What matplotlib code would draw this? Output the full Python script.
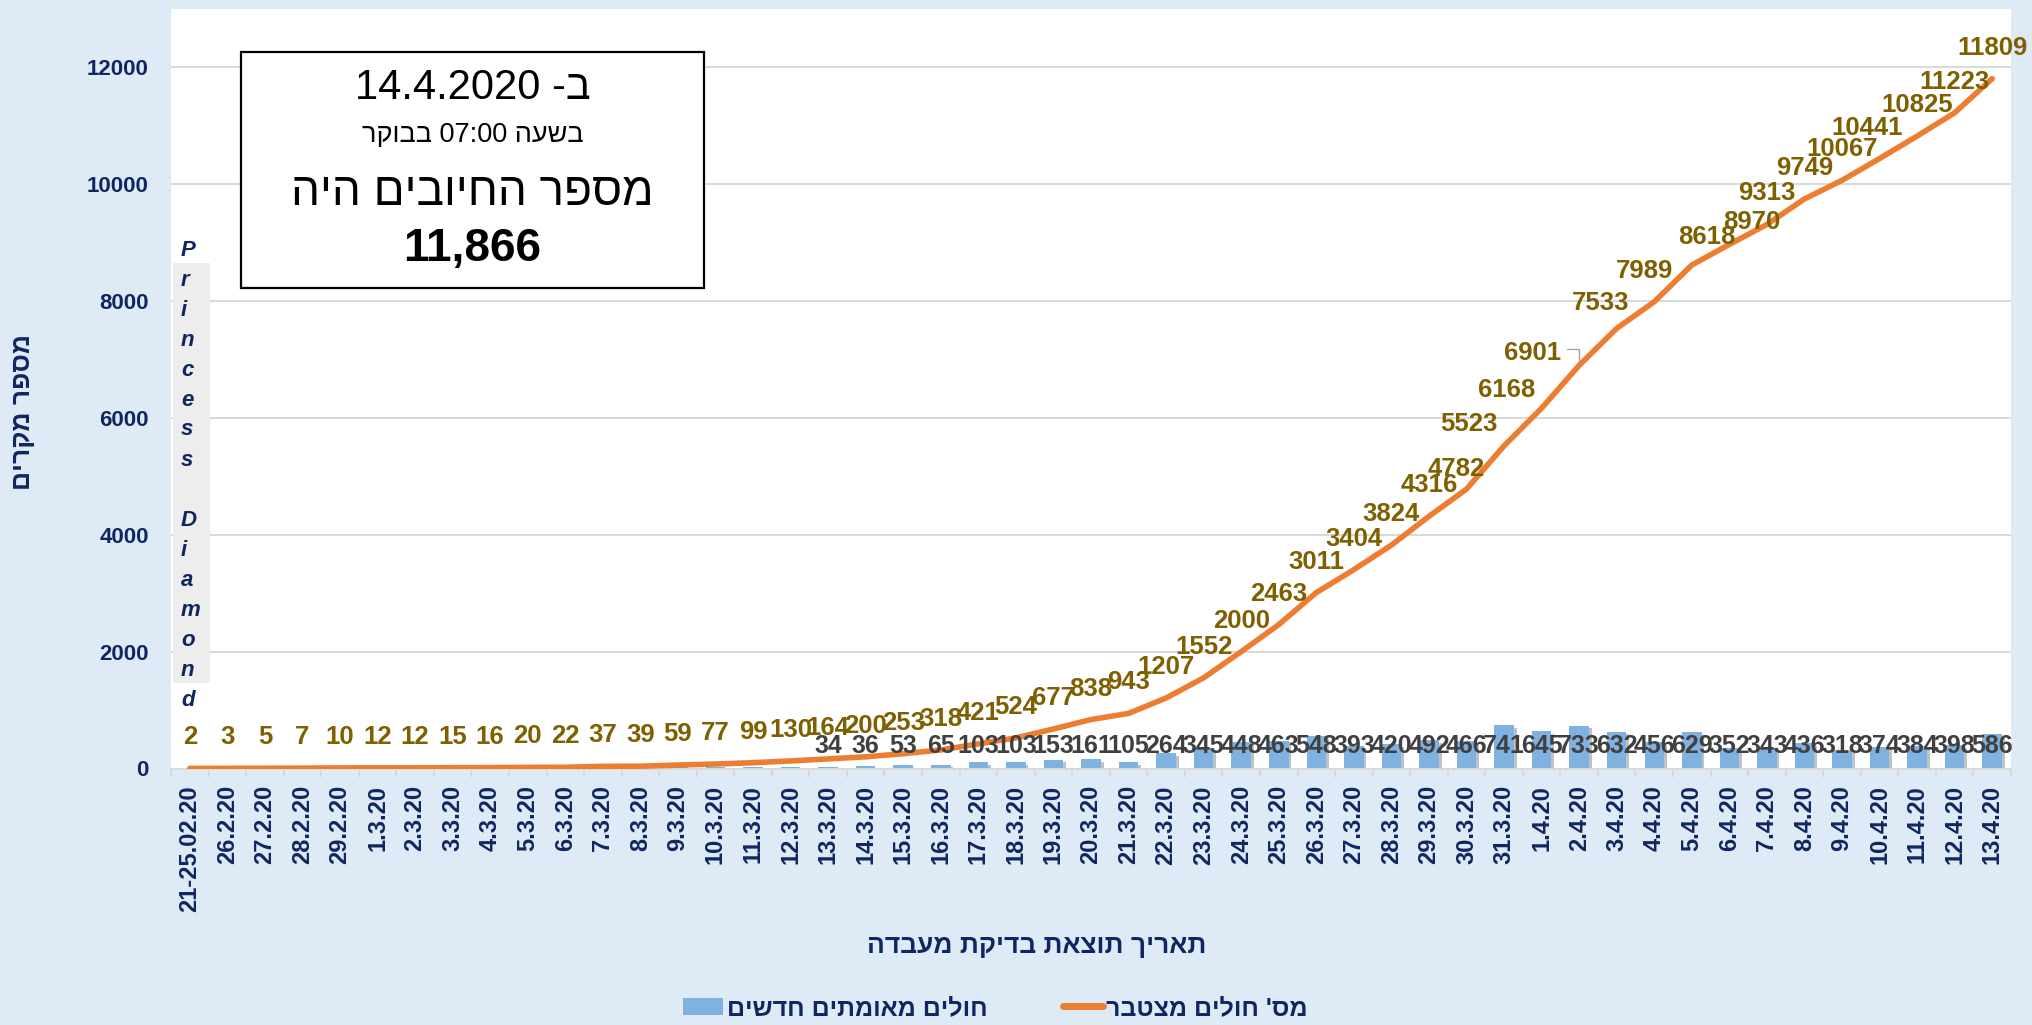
import re
import numpy as np
import matplotlib
matplotlib.use("Agg")
import matplotlib.pyplot as plt
from matplotlib.patches import Rectangle, Patch
from matplotlib.lines import Line2D
import matplotlib.patheffects as pe

plt.rcParams['font.family'] = ['Liberation Sans', 'DejaVu Sans']

# ---------------- data ----------------
dates = ['21-25.02.20', '26.2.20', '27.2.20', '28.2.20', '29.2.20',
         '1.3.20', '2.3.20', '3.3.20', '4.3.20', '5.3.20', '6.3.20', '7.3.20',
         '8.3.20', '9.3.20', '10.3.20', '11.3.20', '12.3.20', '13.3.20',
         '14.3.20', '15.3.20', '16.3.20', '17.3.20', '18.3.20', '19.3.20',
         '20.3.20', '21.3.20', '22.3.20', '23.3.20', '24.3.20', '25.3.20',
         '26.3.20', '27.3.20', '28.3.20', '29.3.20', '30.3.20', '31.3.20',
         '1.4.20', '2.4.20', '3.4.20', '4.4.20', '5.4.20', '6.4.20', '7.4.20',
         '8.4.20', '9.4.20', '10.4.20', '11.4.20', '12.4.20', '13.4.20']

new_cases = [2, 1, 2, 2, 3, 2, 0, 3, 1, 4, 2, 15, 2, 20, 18, 22, 31,
             34, 36, 53, 65, 103, 103, 153, 161, 105, 264, 345, 448, 463,
             548, 393, 420, 492, 466, 741, 645, 733, 632, 456, 629, 352,
             343, 436, 318, 374, 384, 398, 586]

cumulative = [2, 3, 5, 7, 10, 12, 12, 15, 16, 20, 22, 37, 39, 59, 77, 99, 130,
              164, 200, 253, 318, 421, 524, 677, 838, 943, 1207, 1552, 2000,
              2463, 3011, 3404, 3824, 4316, 4782, 5523, 6168, 6901, 7533,
              7989, 8618, 8970, 9313, 9749, 10067, 10441, 10825, 11223, 11809]

first_bar_label = 17          # bars labelled from 13.3.20 on
y_ticks = [0, 2000, 4000, 6000, 8000, 10000, 12000]

title_date = 'ב- 14.4.2020'
title_time = 'בשעה 07:00 בבוקר'
title_text = 'מספר החיובים היה'
title_total = '11,866'
y_title = 'מספר מקרים'
x_title = 'תאריך תוצאת בדיקת מעבדה'
legend_bar = 'חולים מאומתים חדשים'
legend_line = "מס' חולים מצטבר"
ship_note = 'Princess Diamond'

# label placement tweaks (pixels, x right / y down) for crowded line labels
label_offsets = {34: (-10, -20), 35: (-35, -22), 36: (-35, -18),
                 37: (-47, -12), 38: (-16, -25), 39: (-10, -31),
                 40: (15, -28), 41: (22, -22), 45: (-12, -31)}
default_offset = (0, -31)

# ---------------- style ----------------
W, H = 2032, 1025
BG = '#deebf7'
NAVY = '#0f2660'
ORANGE = '#ed7d31'
BLUE = '#7fb2e0'
OLIVE = '#7f6000'
GRAY_TXT = '#404040'
GRID = '#d9d9d9'


def heb(s):
    """Return visual (LTR) order for a Hebrew string, keeping numbers intact."""
    r = s[::-1]
    return re.sub(r'[0-9][0-9.,:]*[0-9]|[0-9]', lambda m: m.group(0)[::-1], r)


def fx(px):
    return px / W


def fy(py):
    return 1 - py / H


fig = plt.figure(figsize=(W / 100, H / 100), dpi=100, facecolor=BG)
ax = fig.add_axes([fx(171), fy(768.5), (2011 - 171) / W, (768.5 - 9) / H])
ax.set_facecolor('white')

x = np.arange(len(dates))
ax.set_xlim(-0.5, len(dates) - 0.5)
ax.set_ylim(0, 13000)

ax.bar(x, new_cases, width=0.52, color=BLUE, zorder=2,
       path_effects=[pe.SimplePatchShadow(offset=(2, -2), alpha=0.3),
                     pe.Normal()])
ax.plot(x, cumulative, color=ORANGE, lw=4.0, solid_capstyle='round',
        solid_joinstyle='round', zorder=3)

# axes styling
ax.set_yticks(y_ticks)
ax.yaxis.grid(True, color=GRID, lw=1.4)
ax.set_axisbelow(True)
ax.tick_params(axis='y', length=0, pad=16, labelsize=16, labelcolor=NAVY)
for lbl in ax.get_yticklabels():
    lbl.set_fontweight('bold')
for s in ('left', 'top', 'right'):
    ax.spines[s].set_visible(False)
ax.spines['bottom'].set_color(GRID)
ax.spines['bottom'].set_linewidth(1.4)

ax.set_xticks(x)
ax.set_xticklabels(dates, rotation=90, fontsize=17, fontweight='bold',
                   color=NAVY)
ax.tick_params(axis='x', which='major', length=0, pad=12)
ax.set_xticks(np.arange(-0.5, len(dates)), minor=True)
ax.tick_params(axis='x', which='minor', length=6, color=GRID, width=1.4)

# data labels
for i, v in enumerate(cumulative):
    dx, dy = label_offsets.get(i, default_offset)
    ax.annotate(str(v), (i, v), xytext=(dx * 0.72, -dy * 0.72),
                textcoords='offset points', ha='center', va='center',
                fontsize=18.5, fontweight='bold', color=OLIVE, zorder=6)
# leader line for 6901
ax.annotate('', (37, cumulative[37]), xytext=(-8.6, 11.5),
            textcoords='offset points',
            arrowprops=dict(arrowstyle='-', color='#a6a6a6', lw=1,
                            connectionstyle='angle,angleA=0,angleB=90,rad=0',
                            shrinkA=0, shrinkB=3))

for i, v in enumerate(new_cases):
    if i >= first_bar_label:
        ax.annotate(str(v), (i, 0), xytext=(0, 16.2),
                    textcoords='offset points', ha='center', va='center',
                    fontsize=18, fontweight='bold', color=GRAY_TXT, zorder=6)

# axis titles
fig.text(fx(23), fy(412), heb(y_title), rotation=90, ha='center',
         va='center', fontsize=19, fontweight='bold', color=NAVY)
fig.text(fx(1037), fy(946), heb(x_title), ha='center', va='center',
         fontsize=19, fontweight='bold', color=NAVY)

# info box
fig.add_artist(Rectangle((fx(241), fy(288)), (704 - 241) / W,
                         (288 - 52) / H, transform=fig.transFigure,
                         facecolor='white', edgecolor='black', lw=1.6,
                         zorder=4))
cx = fx(472.5)
fig.text(cx, fy(88), heb(title_date), ha='center', va='center',
         fontsize=30, color='black', zorder=5)
fig.text(cx, fy(135), heb(title_time), ha='center', va='center',
         fontsize=19.5, color='black', zorder=5)
fig.text(cx, fy(193), heb(title_text), ha='center', va='center',
         fontsize=33, color='black', zorder=5)
fig.text(cx, fy(249), title_total, ha='center', va='center',
         fontsize=33, fontweight='bold', color='black', zorder=5)

# Princess Diamond vertical note
fig.add_artist(Rectangle((fx(173), fy(683)), (210 - 173) / W,
                         (683 - 263) / H, transform=fig.transFigure,
                         facecolor='#ededed', edgecolor='none', zorder=4))
for k, ch in enumerate(ship_note):
    if ch.strip():
        fig.text(fx(181), fy(250 + 30 * k), ch, ha='left', va='center',
                 fontsize=16, fontweight='bold', fontstyle='italic',
                 color=NAVY, zorder=5)

# legend
handles = [Patch(facecolor=BLUE, edgecolor='none'),
           Line2D([0], [0], color=ORANGE, lw=5, solid_capstyle='round')]
leg = fig.legend(handles, [heb(legend_bar), heb(legend_line)], ncol=2,
                 loc='center', bbox_to_anchor=(0.49, fy(1008)),
                 frameon=False, handlelength=1.6, handleheight=0.7,
                 handletextpad=0.15, columnspacing=3.0,
                 prop=dict(size=18, weight='bold'))
for t in leg.get_texts():
    t.set_color(NAVY)

fig.savefig('out.png', dpi=100, facecolor=BG)
